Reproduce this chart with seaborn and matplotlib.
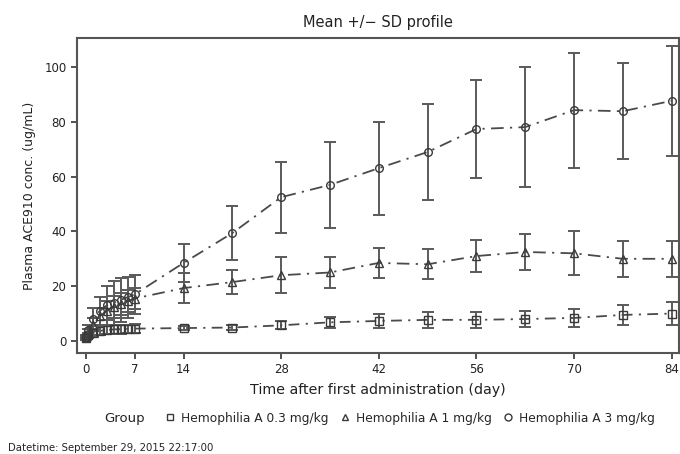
import numpy as np
import pandas as pd
import matplotlib
matplotlib.use("Agg")
import matplotlib.pyplot as plt
import seaborn as sns
from matplotlib.lines import Line2D

# ---- data ----
times = [0.04, 0.25, 1, 2, 3, 4, 5, 6, 7, 14, 21, 28, 35, 42, 49, 56, 63, 70, 77, 84]
groups = ["Hemophilia A 0.3 mg/kg", "Hemophilia A 1 mg/kg", "Hemophilia A 3 mg/kg"]
mean_03 = [1.0, 2.0, 3.0, 3.7, 4.0, 4.2, 4.3, 4.4, 4.5, 4.7, 4.9, 5.7, 6.8, 7.3, 7.7, 7.7, 8.0, 8.4, 9.5, 10.0]
sd_03 = [0.5, 1.0, 1.5, 1.6, 1.6, 1.6, 1.6, 1.6, 1.6, 0.8, 1.0, 1.5, 2.0, 2.5, 3.0, 3.0, 3.0, 3.2, 3.5, 4.2]
mean_1 = [1.5, 3.0, 6.0, 9.0, 11.0, 12.5, 13.5, 14.5, 15.5, 19.3, 21.5, 24.0, 25.0, 28.5, 28.0, 31.0, 32.5, 32.0, 30.0, 30.0]
sd_1 = [0.8, 1.5, 2.5, 3.0, 3.5, 4.0, 4.0, 4.0, 4.0, 5.5, 4.5, 6.5, 5.5, 5.5, 5.5, 6.0, 6.5, 8.0, 6.5, 6.5]
mean_3 = [1.5, 4.0, 8.0, 11.0, 13.0, 14.0, 15.0, 16.0, 17.0, 28.5, 39.4, 52.5, 57.0, 63.1, 69.0, 77.4, 78.1, 84.3, 83.9, 87.7]
sd_3 = [0.8, 2.0, 4.0, 5.0, 7.0, 8.0, 8.0, 7.5, 7.0, 7.0, 9.8, 13.0, 15.7, 17.0, 17.5, 18.0, 22.0, 21.0, 17.6, 20.0]
x_ticks = [0, 7, 14, 28, 42, 56, 70, 84]
y_ticks = [0, 20, 40, 60, 80, 100]

means = [mean_03, mean_1, mean_3]
sds = [sd_03, sd_1, sd_3]
markers = ["s", "^", "o"]
dashes = [(6, 3.5, 1.2, 3.5), (7, 3.5, 1.2, 3.5), (7, 3.5, 1.2, 3.5)]

rows = []
for g, m, s in zip(groups, means, sds):
    for t, mv, sv in zip(times, m, s):
        rows.append({"Group": g, "Time": t, "Mean": mv, "SD": sv})
df = pd.DataFrame(rows)

sns.set_theme(style="white")
plt.rcParams["font.family"] = ["DejaVu Sans"]

col = "#3a3a3a"
fig = plt.figure(figsize=(6.8, 4.54), dpi=100)
ax = fig.add_axes([0.113, 0.2225, 0.886, 0.6935])

for g, mk, ds in zip(groups, markers, dashes):
    sub = df[df["Group"] == g]
    ax.errorbar(sub["Time"], sub["Mean"], yerr=sub["SD"], fmt="none",
                ecolor="#5a5a5a", elinewidth=1.4, capsize=4.5, capthick=1.4, zorder=2)
    sns.lineplot(data=sub, x="Time", y="Mean", ax=ax, color="#4a4a4a", lw=1.3,
                 marker=mk, markersize=5.5, markerfacecolor="none",
                 markeredgecolor=col, markeredgewidth=1.0,
                 dashes=False, legend=False, zorder=3)
    ax.lines[-1].set_dashes(ds)

ax.set_xlim(-1.3, 85.1)
ax.set_ylim(-4.4, 110.6)
ax.set_xticks(x_ticks)
ax.set_yticks(y_ticks)
ax.tick_params(axis="both", direction="out", length=4, width=1.2, color="#333333",
               labelsize=8.5, labelcolor="#222222", bottom=True, left=True)
for sp in ax.spines.values():
    sp.set_color("#555555")
    sp.set_linewidth(1.5)
ax.set_xlabel("Time after first administration (day)", fontsize=10.3, color="#222222", labelpad=5)
ax.set_ylabel("Plasma ACE910 conc. (ug/mL)", fontsize=9, color="#222222", labelpad=6)
ax.set_title("Mean +/\u2212 SD profile", fontsize=10.5, color="#222222", pad=8)
ax.grid(False)

handles = [Line2D([], [], linestyle="none", marker=mk, markersize=5, markerfacecolor="none",
                  markeredgecolor=col, markeredgewidth=1.0) for mk in markers]
fig.legend(handles, groups, loc="center", bbox_to_anchor=(0.603, 0.079), ncol=3, frameon=False,
           fontsize=8.8, handletextpad=0.5, columnspacing=0.9, handlelength=0.8,
           borderpad=0.1, borderaxespad=0)
fig.text(0.154, 0.079, "Group", fontsize=9.5, va="center", ha="left", color="#222222")
fig.text(0.012, 0.013, "Datetime: September 29, 2015 22:17:00", fontsize=7.3, va="center",
         ha="left", color="#222222")

fig.savefig("out.png", dpi=100)
